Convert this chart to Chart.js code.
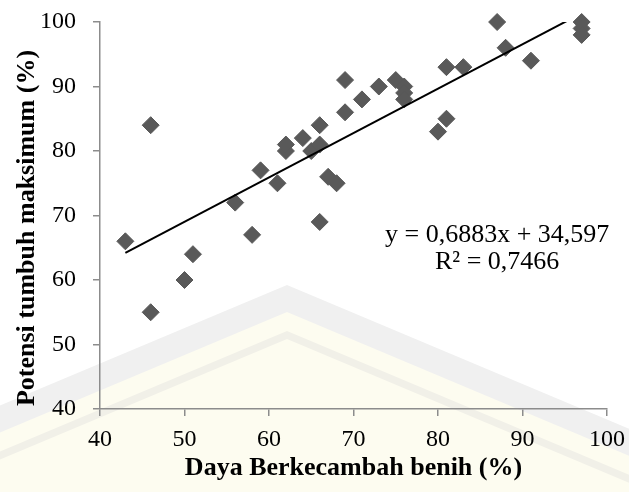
<!DOCTYPE html>
<html>
<head>
<meta charset="utf-8">
<script src="https://cdn.jsdelivr.net/npm/chart.js@4.4.1/dist/chart.umd.min.js"></script>
<style>
  html, body { margin: 0; padding: 0; background: #fff; }
  canvas { display: block; }
</style>
</head>
<body>
<canvas id="chart" width="629" height="492"></canvas>
<script>
/* ================================
   Data
================================ */
const dayaBerkecambah = [43, 46, 46, 50, 51, 56, 58, 59, 61, 62, 62, 64, 65, 66, 66, 66, 67, 68,
                         69, 69, 71, 73, 75, 76, 76, 76, 80, 81, 81, 83, 87, 88, 91, 97, 97, 97];
const potensiTumbuh   = [66, 84, 55, 60, 64, 72, 67, 77, 75, 80, 81, 82, 80, 81, 84, 69, 76, 75,
                         86, 91, 88, 90, 91, 90, 89, 88, 83, 85, 93, 93, 100, 96, 94, 100, 99, 98];
const trendX = [43, 97];
const slope = 0.6883;
const intercept = 34.597;
const equationLines = ["y = 0,6883x + 34,597", "R\u00B2 = 0,7466"];
const xTicks = [40, 50, 60, 70, 80, 90, 100];
const yTicks = [40, 50, 60, 70, 80, 90, 100];

const SERIF = '"Liberation Serif", "Times New Roman", serif';
const AXIS_GREY = "#8c8c8c";

/* ================================
   Plugins
================================ */
// faint repository watermark behind the plot
const watermark = {
  id: "watermark",
  beforeDraw(chart) {
    const { ctx, width, height } = chart;
    const peakX = 287;
    const layers = [
      [285, "#f0f0f0"],
      [312, "#fdfcf0"],
      [331, "#f1f0e8"],
      [339, "#fdfcf0"]
    ];
    ctx.save();
    ctx.fillStyle = "#fff";
    ctx.fillRect(0, 0, width, height);
    layers.forEach(([peakY, color]) => {
      ctx.beginPath();
      ctx.moveTo(0, peakY + 0.42 * peakX);
      ctx.lineTo(peakX, peakY);
      ctx.lineTo(width, peakY + 0.42 * (width - peakX));
      ctx.lineTo(width, height);
      ctx.lineTo(0, height);
      ctx.closePath();
      ctx.fillStyle = color;
      ctx.fill();
    });
    ctx.restore();
  }
};

// regression equation + rotated y title
const annotations = {
  id: "annotations",
  afterDraw(chart) {
    const { ctx, scales } = chart;
    ctx.save();
    ctx.fillStyle = "#000";
    ctx.textAlign = "center";
    ctx.textBaseline = "middle";
    ctx.font = `26px ${SERIF}`;
    const ex = scales.x.getPixelForValue(87);
    ctx.fillText(equationLines[0], ex, scales.y.getPixelForValue(67));
    ctx.fillText(equationLines[1], ex, scales.y.getPixelForValue(62.8));

    ctx.translate(27, 228);
    ctx.rotate(-Math.PI / 2);
    ctx.font = `bold 26px ${SERIF}`;
    ctx.fillText("Potensi tumbuh maksimum (%)", 0, 0);
    ctx.restore();
  }
};

/* ================================
   Chart
================================ */
const points = dayaBerkecambah.map((x, i) => ({ x, y: potensiTumbuh[i] }));
const trend = trendX.map(x => ({ x, y: slope * x + intercept }));

new Chart(document.getElementById("chart"), {
  type: "scatter",
  data: {
    datasets: [
      {
        data: points,
        pointStyle: "rectRot",
        pointRadius: 8.5,
        pointHoverRadius: 8.5,
        backgroundColor: "#595959",
        borderColor: "#595959",
        borderWidth: 1,
        clip: false,
        order: 2
      },
      {
        type: "line",
        data: trend,
        borderColor: "#000",
        borderWidth: 2,
        pointRadius: 0,
        fill: false,
        order: 1
      }
    ]
  },
  options: {
    responsive: false,
    animation: false,
    layout: { padding: { top: 22, right: 22, left: 0, bottom: 0 } },
    plugins: {
      legend: { display: false },
      tooltip: { enabled: false }
    },
    scales: {
      x: {
        type: "linear",
        min: 40,
        max: 100,
        afterBuildTicks: s => { s.ticks = xTicks.map(v => ({ value: v })); },
        afterFit: s => {
          s.height = 83;
          s.paddingLeft = 0;
          s.paddingRight = 0;
        },
        border: { color: AXIS_GREY, width: 1.5 },
        grid: { drawOnChartArea: false, tickLength: 7, color: AXIS_GREY, lineWidth: 1.5 },
        ticks: { color: "#000", padding: 9, font: { family: SERIF, size: 24 } },
        title: {
          display: true,
          text: "Daya Berkecambah benih (%)",
          color: "#000",
          padding: { top: 0, bottom: 8 },
          font: { family: SERIF, size: 26, weight: "bold" }
        }
      },
      y: {
        type: "linear",
        min: 40,
        max: 100,
        afterBuildTicks: s => { s.ticks = yTicks.map(v => ({ value: v })); },
        afterFit: s => {
          s.width = 100;
          s.paddingTop = 0;
          s.paddingBottom = 0;
        },
        border: { color: AXIS_GREY, width: 1.5 },
        grid: { drawOnChartArea: false, tickLength: 7, color: AXIS_GREY, lineWidth: 1.5 },
        ticks: { color: "#000", padding: 17, font: { family: SERIF, size: 24 } }
      }
    }
  },
  plugins: [watermark, annotations]
});
</script>
</body>
</html>
